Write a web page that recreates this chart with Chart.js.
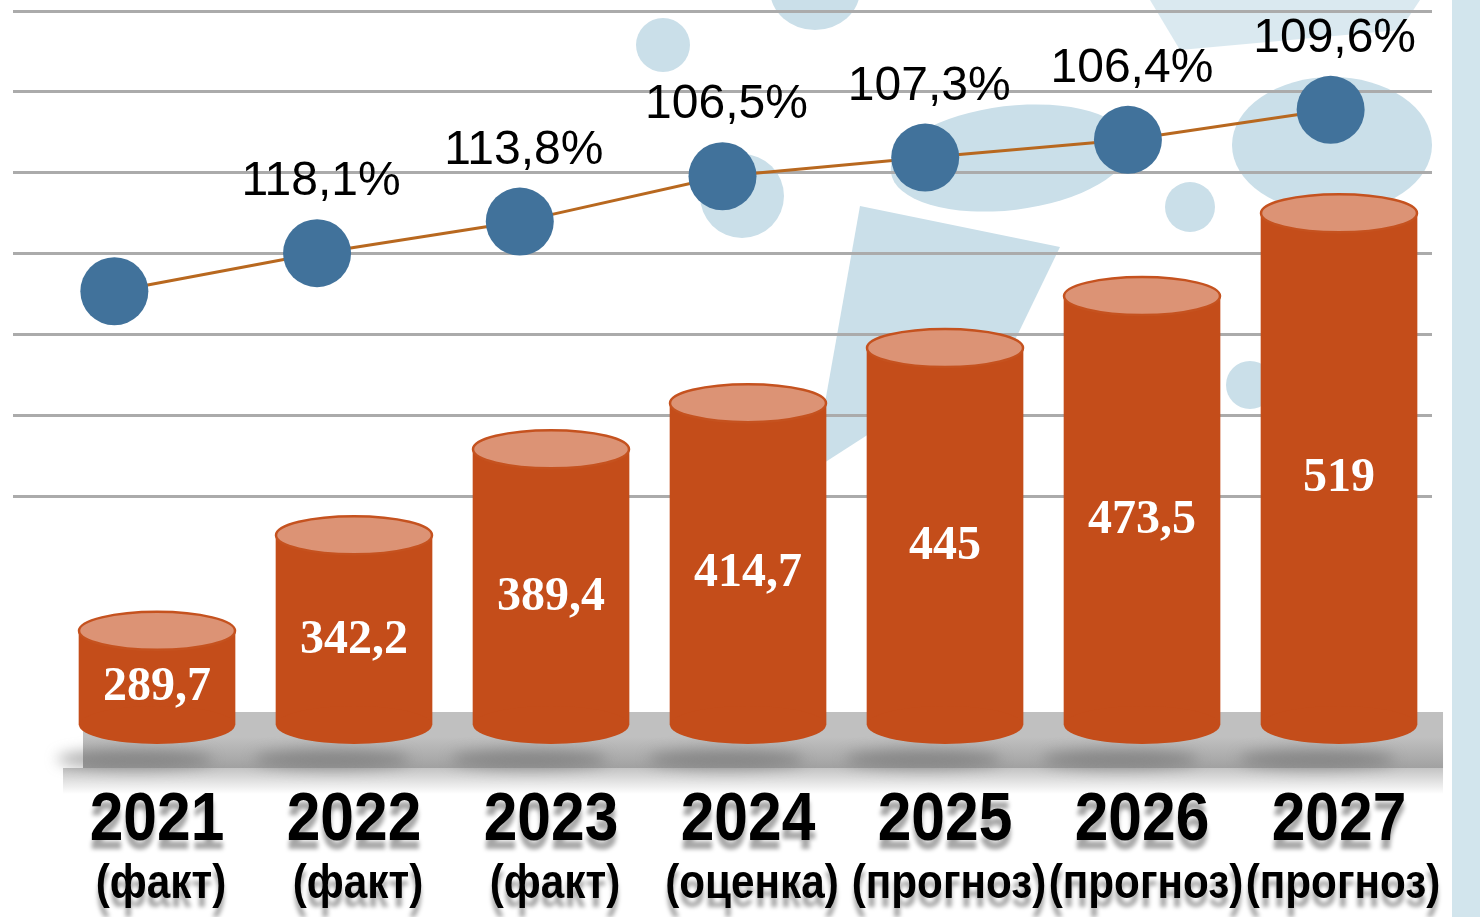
<!DOCTYPE html>
<html>
<head>
<meta charset="utf-8">
<script src="https://cdn.jsdelivr.net/npm/chart.js@4.4.1/dist/chart.umd.min.js"></script>
<style>
    html, body { margin: 0; padding: 0; background: #fff; }
    #wrap { width: 1480px; height: 917px; overflow: hidden; }
</style>
</head>
<body>
<div id="wrap"><canvas id="growthChart" width="1480" height="917"></canvas></div>
<script>
    // Data
    const years = ['2021', '2022', '2023', '2024', '2025', '2026', '2027'];
    const periods = ['(факт)', '(факт)', '(факт)', '(оценка)', '(прогноз)', '(прогноз)', '(прогноз)'];
    const volumes = [289.7, 342.2, 389.4, 414.7, 445, 473.5, 519];
    const growthPct = [null, 118.1, 113.8, 106.5, 107.3, 106.4, 109.6];
    // level of the growth line on the hidden right axis (one grid step = 1)
    const lineLevel = [5.54, 6.01, 6.40, 6.96, 7.19, 7.41, 7.78];

    const Y_MIN = 238;
    const Y_MAX = 630;

    const BAR_COLOR = '#c44d1a';
    const TOP_COLOR = '#dc9375';
    const EMBLEM = '#cadfe9';

    function fmtNum(v) {
        return String(v).replace('.', ',');
    }
    function fmtPct(v) {
        return v.toFixed(1).replace('.', ',') + '%';
    }

    function ellipse(ctx, x, y, rx, ry, rot) {
        ctx.beginPath();
        ctx.ellipse(x, y, rx, ry, rot || 0, 0, Math.PI * 2);
        ctx.fill();
    }

    // faint emblem in the background
    const emblemPlugin = {
        id: 'emblem',
        beforeDraw(chart) {
            const ctx = chart.ctx;
            ctx.save();
            ctx.fillStyle = '#ffffff';
            ctx.fillRect(0, 0, chart.width, chart.height);
            ctx.fillStyle = EMBLEM;
            ellipse(ctx, 663, 45, 27, 27);
            ellipse(ctx, 815, -10, 45, 40);
            ellipse(ctx, 742, 196, 42, 42);
            ellipse(ctx, 1010, 158, 120, 52, -0.12);
            ellipse(ctx, 1332, 145, 100, 68);
            ellipse(ctx, 1190, 207, 25, 25);
            ellipse(ctx, 1250, 385, 24, 24);
            ctx.beginPath();
            ctx.moveTo(813, 470);
            ctx.lineTo(860, 206);
            ctx.lineTo(1060, 247);
            ctx.lineTo(1015, 340);
            ctx.closePath();
            ctx.fill();
            ctx.globalAlpha = 0.7;
            ctx.beginPath();
            ctx.moveTo(1150, 0);
            ctx.lineTo(1420, 0);
            ctx.lineTo(1400, 30);
            ctx.lineTo(1180, 50);
            ctx.closePath();
            ctx.fill();
            ctx.globalAlpha = 1;
            // ring on the right edge
            ctx.fillStyle = '#d2e5ed';
            ctx.fillRect(1452, 0, 28, chart.height);
            ctx.restore();
        }
    };

    // grey floor under the cylinders
    const floorPlugin = {
        id: 'floor',
        beforeDatasetsDraw(chart) {
            const bars = chart.getDatasetMeta(1).data;
            if (!bars.length) return;
            const ctx = chart.ctx;
            const first = bars[0];
            const last = bars[bars.length - 1];
            const left = first.x - first.width / 2 + 4;
            const right = last.x + last.width / 2 + 26;
            const base = first.base;
            const top = base - 13;
            const bottom = base + 43;

            ctx.save();
            ctx.fillStyle = '#c0c0c0';
            ctx.fillRect(left, top, right - left, bottom - top);
            const g = ctx.createLinearGradient(0, base + 12, 0, bottom);
            g.addColorStop(0, 'rgba(130,130,130,0)');
            g.addColorStop(1, 'rgba(130,130,130,0.5)');
            ctx.fillStyle = g;
            ctx.fillRect(left, base + 12, right - left, bottom - base - 12);
            const s = ctx.createLinearGradient(0, bottom, 0, bottom + 26);
            s.addColorStop(0, 'rgba(170,170,170,0.7)');
            s.addColorStop(1, 'rgba(170,170,170,0)');
            ctx.fillStyle = s;
            ctx.fillRect(left - 20, bottom, right - left + 20, 26);

            // soft shadows of the cylinders
            ctx.filter = 'blur(7px)';
            ctx.fillStyle = 'rgba(105,105,105,0.55)';
            bars.forEach(bar => {
                ellipse(ctx, bar.x - 22, base + 34, bar.width / 2, 10);
            });
            ctx.restore();
        }
    };

    const cylinderPlugin = {
        id: 'cylinders',
        afterDatasetsDraw(chart) {
            const ctx = chart.ctx;
            const bars = chart.getDatasetMeta(1).data;
            const points = chart.getDatasetMeta(0).data;
            const ry = 19;

            ctx.save();
            bars.forEach((bar, i) => {
                const rx = bar.width / 2;
                ctx.fillStyle = BAR_COLOR;
                ellipse(ctx, bar.x, bar.base, rx, ry);
                ctx.fillStyle = TOP_COLOR;
                ellipse(ctx, bar.x, bar.y, rx, ry);
                ctx.strokeStyle = '#c5521f';
                ctx.lineWidth = 2.5;
                ctx.stroke();

                ctx.fillStyle = '#ffffff';
                ctx.font = 'bold 48px "Liberation Serif"';
                ctx.textAlign = 'center';
                ctx.textBaseline = 'middle';
                ctx.fillText(fmtNum(volumes[i]), bar.x, (bar.y + bar.base) / 2 + 10);
            });

            // growth labels above the points
            ctx.fillStyle = '#000000';
            ctx.font = '48px "Liberation Sans"';
            ctx.textAlign = 'center';
            ctx.textBaseline = 'alphabetic';
            points.forEach((pt, i) => {
                if (growthPct[i] == null) return;
                ctx.fillText(fmtPct(growthPct[i]), pt.x + 4, pt.y - 58);
            });

            // category labels with a reflection-like shadow
            const xb = chart.scales.xb;
            ctx.shadowColor = 'rgba(0,0,0,0.35)';
            ctx.shadowBlur = 4;
            ctx.shadowOffsetY = 9;
            years.forEach((yr, i) => {
                const x = xb.getPixelForValue(i);
                ctx.save();
                ctx.translate(x, 840);
                ctx.scale(0.89, 1);
                ctx.font = 'bold 68px "Liberation Sans"';
                ctx.fillText(yr, 0, 0);
                ctx.restore();
                ctx.save();
                ctx.translate(x + 4, 898);
                ctx.scale(0.88, 1);
                ctx.font = 'bold 48px "Liberation Sans"';
                ctx.fillText(periods[i], 0, 0);
                ctx.restore();
            });
            ctx.restore();
        }
    };

    const canvas = document.getElementById('growthChart');
    new Chart(canvas.getContext('2d'), {
        type: 'bar',
        data: {
            labels: years,
            datasets: [
                {
                    type: 'line',
                    label: 'Темп роста',
                    data: lineLevel,
                    xAxisID: 'x',
                    yAxisID: 'y2',
                    borderColor: '#b8681f',
                    borderWidth: 3,
                    pointRadius: 34,
                    pointHoverRadius: 34,
                    pointBackgroundColor: '#41729b',
                    pointBorderWidth: 0,
                    tension: 0,
                    clip: false,
                    order: 0
                },
                {
                    type: 'bar',
                    label: 'Объём',
                    data: volumes.map((v, i) => ({ x: i, y: v })),
                    xAxisID: 'xb',
                    yAxisID: 'y',
                    base: Y_MIN,
                    grouped: false,
                    backgroundColor: BAR_COLOR,
                    borderWidth: 0,
                    barThickness: 156,
                    maxBarThickness: 156,
                    clip: false,
                    order: 1
                }
            ]
        },
        options: {
            responsive: false,
            animation: false,
            events: [],
            layout: { autoPadding: false, padding: { left: 13, right: 48, top: 11, bottom: 192 } },
            plugins: {
                legend: { display: false },
                tooltip: { enabled: false }
            },
            scales: {
                x: { type: 'category', display: false, offset: true },
                xb: { type: 'linear', display: false, offset: false, min: -0.731, max: 6.472 },
                y: { type: 'linear', display: false, min: Y_MIN, max: Y_MAX },
                y2: {
                    type: 'linear',
                    position: 'right',
                    min: 0.185,
                    max: 9,
                    ticks: { display: false, stepSize: 1 },
                    border: { display: false },
                    grid: {
                        drawTicks: false,
                        lineWidth: 3,
                        color: c => (c.tick && c.tick.value >= 3) ? '#ababab' : 'rgba(0,0,0,0)'
                    }
                }
            }
        },
        plugins: [emblemPlugin, floorPlugin, cylinderPlugin]
    });
</script>
</body>
</html>
